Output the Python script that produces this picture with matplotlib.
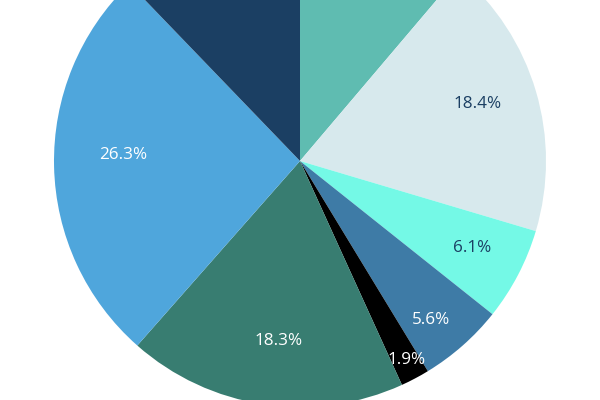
import matplotlib
matplotlib.use("Agg")
import matplotlib.pyplot as plt
import numpy as np

labels = ["A", "B", "C", "D", "E", "F", "G", "H"]
values = [11.2, 18.4, 6.1, 5.6, 1.9, 18.3, 26.3, 12.2]
colors = ["#5fbcb1", "#d7e9ed", "#74f9e6", "#3e7ba6", "#000000", "#387d71", "#4fa6dc", "#1b3f63"]
text_colors = ["white", "#1b3f63", "#1b3f63", "white", "white", "white", "white", "white"]
# label placement: radial fraction and angular offset (deg, clockwise)
label_r = [0.75, 0.76, 0.78, 0.83, 0.91, 0.73, 0.72, 0.75]
label_dang = [0, -1.8, -1.1, 1.6, -0.6, -1.5, 3.7, 0]

W, H = 600, 400
cx, cy, R = 300, 161, 246

fig = plt.figure(figsize=(6, 4), dpi=100)
ax = fig.add_axes([0, 0, 1, 1])
wedges, _ = ax.pie(values, colors=colors, startangle=90, counterclock=False,
                   radius=1, wedgeprops=dict(linewidth=0))
total = sum(values)
for w, v, tc, r, da in zip(wedges, values, text_colors, label_r, label_dang):
    ang = np.deg2rad((w.theta1 + w.theta2) / 2 - da)
    x, y = r * np.cos(ang), r * np.sin(ang)
    if y > (cy - 10) / R:
        continue
    ax.text(x, y, f"{v / total * 100:.1f}%", ha="center", va="center_baseline",
            color=tc, fontsize=12.3, family=["Open Sans", "DejaVu Sans"])
ax.set_xlim(-cx / R, (W - cx) / R)
ax.set_ylim(-(H - cy) / R, cy / R)
ax.set_aspect("equal")
ax.axis("off")
fig.savefig("out.png", dpi=100)
